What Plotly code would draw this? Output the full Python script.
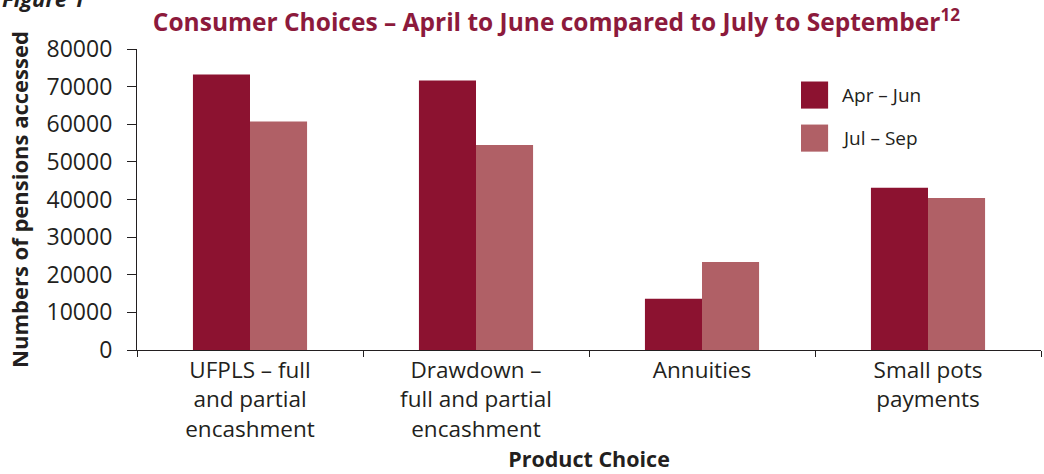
import plotly.graph_objects as go

# Product choices and number of pensions accessed per quarter
categories = ["UFPLS – full<br>and partial<br>encashment",
              "Drawdown –<br>full and partial<br>encashment",
              "Annuities",
              "Small pots<br>payments"]
series_names = ["Apr – Jun", "Jul – Sep"]
apr_jun = [73200, 71600, 13600, 43100]
jul_sep = [60700, 54500, 23400, 40400]
y_ticks = [0, 10000, 20000, 30000, 40000, 50000, 60000, 70000, 80000]

colors = ["#8c1230", "#b06066"]
font_family = "Open Sans, sans-serif"
text_color = "#231f20"

fig = go.Figure()
for name, vals, col in zip(series_names, [apr_jun, jul_sep], colors):
    fig.add_trace(go.Bar(x=categories, y=vals, name=name, marker_color=col,
                         marker_line_width=0, showlegend=False))

fig.update_layout(
    width=1044, height=474,
    margin=dict(l=137, r=3, t=49, b=124),
    paper_bgcolor="white", plot_bgcolor="white",
    barmode="group", bargap=0.495, bargroupgap=0,
    font=dict(family=font_family, color=text_color, size=22),
    title=dict(
        text="<b>Consumer Choices – April to June compared to July to September<sup>12</sup></b>",
        x=0.533, xanchor="center", y=0.952, yanchor="middle",
        font=dict(family=font_family, size=24.5, color="#8c1a3c"),
    ),
)

fig.update_xaxes(
    showline=True, linecolor="#231f20", linewidth=1.2,
    ticks="outside", tickson="boundaries", ticklen=6, tickcolor="#231f20",
    tickfont=dict(size=22.5, color=text_color),
    title=dict(text="<b>Product Choice</b>", font=dict(size=21.5, color=text_color), standoff=6),
    showgrid=False,
)
fig.update_yaxes(
    range=[0, 80000], tickvals=y_ticks, ticktext=[str(v) for v in y_ticks],
    showline=True, linecolor="#231f20", linewidth=1.2,
    ticks="outside", ticklen=9, tickcolor="#231f20",
    tickfont=dict(size=23, color=text_color), ticklabelstandoff=10,
    title=dict(text="<b>Numbers of pensions accessed</b>",
               font=dict(size=22, color=text_color), standoff=11),
    showgrid=False, zeroline=False,
)

# Legend drawn as large colour swatches beside the series labels
legend_y = [0.847, 0.704]
for name, col, ly in zip(series_names, colors, legend_y):
    fig.add_shape(type="rect", xref="paper", yref="paper",
                  x0=0.7345, x1=0.7645, y0=ly - 0.045, y1=ly + 0.045,
                  fillcolor=col, line_width=0)
    fig.add_annotation(text=name, xref="paper", yref="paper",
                       x=0.778, y=ly, xanchor="left", yanchor="middle",
                       showarrow=False, font=dict(size=19, color=text_color))

# Figure number at top left
fig.add_annotation(text="<b><i>Figure 1</i></b>", xref="paper", yref="paper",
                   x=-0.151, y=1.17, xanchor="left", yanchor="middle",
                   showarrow=False, font=dict(size=22, color=text_color))

fig.write_html("out.html")
